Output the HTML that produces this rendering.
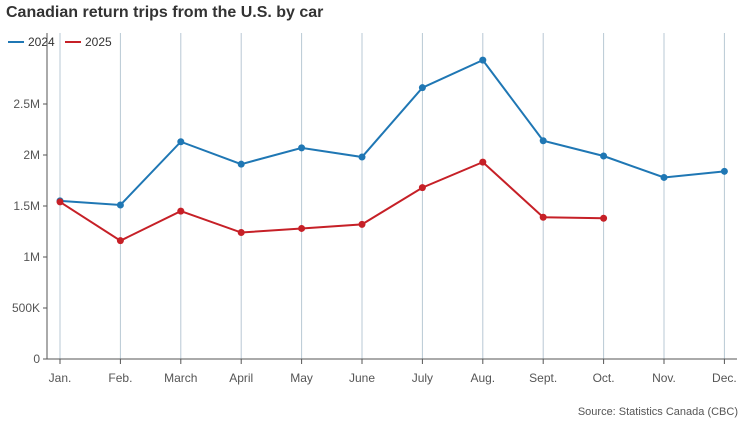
<!DOCTYPE html>
<html><head><meta charset="utf-8"><style>
body{margin:0;background:#fff;font-family:"Liberation Sans",sans-serif;}
svg text{font-family:"Liberation Sans",sans-serif;}
</style></head><body>
<svg id="chart" width="746" height="422">
<text x="6" y="17" font-size="16" font-weight="bold" fill="#333">Canadian return trips from the U.S. by car</text>
<g>
<line x1="8" y1="42" x2="24" y2="42" stroke="#1f77b4" stroke-width="2"/>
<text x="28" y="46" font-size="12" fill="#333">2024</text>
<line x1="65" y1="42" x2="81" y2="42" stroke="#c62027" stroke-width="2"/>
<text x="85" y="46" font-size="12" fill="#333">2025</text>
</g>
<g id="plot"></g>
<text x="738" y="415" font-size="11" fill="#555" text-anchor="end">Source: Statistics Canada (CBC)</text>
</svg>
<script>
const months=["Jan.","Feb.","March","April","May","June","July","Aug.","Sept.","Oct.","Nov.","Dec."];
const s2024=[1.55,1.51,2.13,1.91,2.07,1.98,2.66,2.93,2.14,1.99,1.78,1.84];
const s2025=[1.54,1.16,1.45,1.24,1.28,1.32,1.68,1.93,1.39,1.38];
const yTicks=[0,0.5,1,1.5,2,2.5];
const yLabels=["0","500K","1M","1.5M","2M","2.5M"];
const NS="http://www.w3.org/2000/svg";
const g=document.getElementById('plot');
const x=i=>60+i*60.4;
const y=v=>359-v*102;
function mk(t,a,name){const e=document.createElementNS(NS,t);for(const k in a)e.setAttribute(k,a[k]);


g.appendChild(e);return e;}
months.forEach((m,i)=>{
mk('line',{x1:x(i),x2:x(i),y1:33,y2:359,stroke:'#b8c8d4','stroke-width':1},'gridline-'+i);
mk('line',{x1:x(i),x2:x(i),y1:359,y2:364,stroke:'#555'},'x-tick-'+i);
const t=mk('text',{x:x(i),y:382,'font-size':12,fill:'#555','text-anchor':'middle'},'x-label-'+i);t.textContent=m;
});
yTicks.forEach((v,i)=>{
mk('line',{x1:43,x2:47,y1:y(v),y2:y(v),stroke:'#555'},'y-tick-'+i);
const t=mk('text',{x:40,y:y(v)+4,'font-size':12,fill:'#555','text-anchor':'end'},'y-label-'+i);t.textContent=yLabels[i];
});
mk('line',{x1:47,x2:47,y1:33,y2:359,stroke:'#555'},'y-axis');
mk('line',{x1:47,x2:737,y1:359,y2:359,stroke:'#555'},'x-axis');
function series(d,c,n){
mk('polyline',{points:d.map((v,i)=>x(i)+','+y(v)).join(' '),fill:'none',stroke:c,'stroke-width':2},'line-'+n);
d.forEach((v,i)=>mk('circle',{cx:x(i),cy:y(v),r:3.5,fill:c},'point-'+n+'-'+i));
}
series(s2024,'#1f77b4','2024');
series(s2025,'#c62027','2025');
</script>
</body></html>
